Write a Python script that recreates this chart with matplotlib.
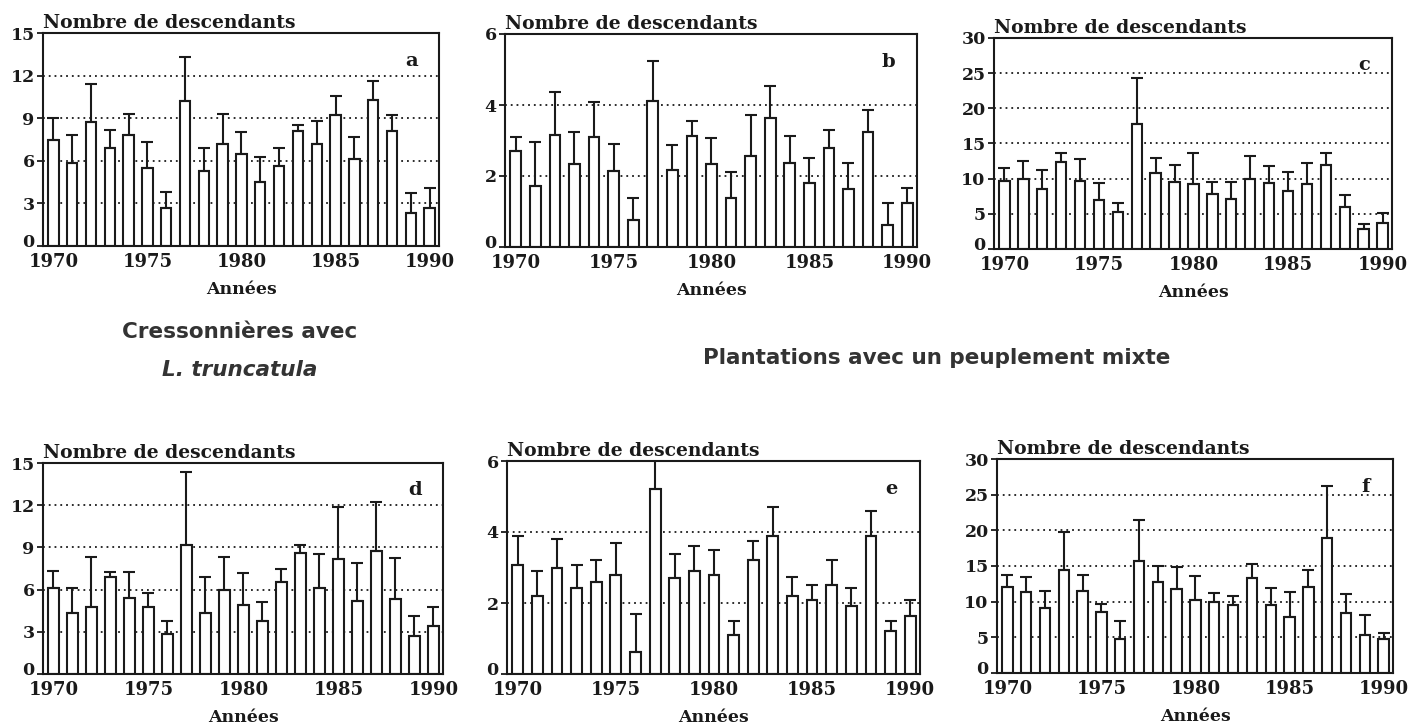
import matplotlib
matplotlib.use("Agg")
import matplotlib.pyplot as plt
import matplotlib.transforms as mtransforms
import numpy as np

years = list(range(1970, 1991))

# mean number of descendants and top of the error bar, read per panel
a_mean = [7.5, 5.85, 8.7, 6.9, 7.8, 5.5, 2.7, 10.2, 5.3, 7.2, 6.5, 4.5, 5.6, 8.1, 7.2, 9.2, 6.1, 10.25, 8.1, 2.3, 2.7]
a_top = [9.0, 7.85, 11.4, 8.2, 9.3, 7.3, 3.8, 13.3, 6.9, 9.3, 8.0, 6.3, 6.9, 8.5, 8.8, 10.55, 7.7, 11.65, 9.2, 3.75, 4.1]

b_mean = [2.7, 1.72, 3.16, 2.35, 3.09, 2.15, 0.75, 4.11, 2.18, 3.13, 2.33, 1.38, 2.57, 3.62, 2.38, 1.81, 2.8, 1.62, 3.25, 0.61, 1.25]
b_top = [3.1, 2.96, 4.36, 3.25, 4.09, 2.9, 1.39, 5.25, 2.87, 3.56, 3.08, 2.12, 3.72, 4.54, 3.12, 2.51, 3.3, 2.37, 3.86, 1.25, 1.66]

c_mean = [9.7, 9.9, 8.6, 12.3, 9.6, 7.0, 5.2, 17.8, 10.8, 9.5, 9.2, 7.8, 7.1, 10.0, 9.4, 8.2, 9.3, 12.0, 6.0, 2.8, 3.7]
c_top = [11.5, 12.5, 11.2, 13.6, 12.8, 9.4, 6.6, 24.3, 12.9, 12.0, 13.6, 9.5, 9.5, 13.2, 11.8, 10.9, 12.2, 13.6, 7.7, 3.6, 5.1]

d_mean = [6.1, 4.33, 4.75, 6.88, 5.39, 4.75, 2.84, 9.15, 4.35, 6.0, 4.94, 3.74, 6.52, 8.63, 6.12, 8.16, 5.22, 8.77, 5.32, 2.67, 3.38]
d_top = [7.33, 6.12, 8.35, 7.23, 7.26, 5.77, 3.74, 14.37, 6.88, 8.32, 7.16, 5.11, 7.45, 9.15, 8.56, 11.87, 7.92, 12.2, 8.27, 4.09, 4.78]

e_mean = [3.08, 2.2, 3.0, 2.43, 2.6, 2.8, 0.61, 5.2, 2.71, 2.91, 2.8, 1.1, 3.21, 3.9, 2.2, 2.09, 2.51, 1.92, 3.89, 1.21, 1.62]
e_top = [3.89, 2.89, 3.8, 3.08, 3.2, 3.7, 1.7, 6.3, 3.39, 3.6, 3.5, 1.49, 3.76, 4.7, 2.72, 2.5, 3.21, 2.41, 4.6, 1.49, 2.09]

f_mean = [12.0, 11.3, 9.1, 14.5, 11.5, 8.55, 4.8, 15.7, 12.8, 11.8, 10.2, 9.9, 9.6, 13.3, 9.6, 7.85, 12.1, 18.9, 8.4, 5.3, 4.8]
f_top = [13.7, 13.4, 11.5, 19.7, 13.8, 9.7, 7.3, 21.4, 15.0, 14.8, 13.6, 11.2, 10.8, 15.3, 11.9, 11.4, 14.4, 26.2, 11.1, 8.2, 5.6]

panels = [
    ("a", a_mean, a_top, 15, [0, 3, 6, 9, 12, 15]),
    ("b", b_mean, b_top, 6, [0, 2, 4, 6]),
    ("c", c_mean, c_top, 30, [0, 5, 10, 15, 20, 25, 30]),
    ("d", d_mean, d_top, 15, [0, 3, 6, 9, 12, 15]),
    ("e", e_mean, e_top, 6, [0, 2, 4, 6]),
    ("f", f_mean, f_top, 30, [0, 5, 10, 15, 20, 25, 30]),
]

W, H = 1413, 727
# axes boxes in pixels: left, right, top, bottom
boxes = [
    (43, 439, 33, 246), (505, 917, 34, 247), (994, 1392, 38, 249),
    (43, 443, 463, 674), (507, 920, 461, 674), (997, 1393, 459, 673),
]

serif = "DejaVu Serif"
ink = "#1a1a1a"

fig = plt.figure(figsize=(W / 100, H / 100), dpi=100)
lift = mtransforms.ScaledTranslation(0, 4 / 72, fig.dpi_scale_trans)

for (letter, mean, top, ymax, yt), (l, r, t, b) in zip(panels, boxes):
    ax = fig.add_axes([l / W, 1 - b / H, (r - l) / W, (b - t) / H])
    mean = np.array(mean)
    up = np.array(top) - mean
    for y in yt[1:-1]:
        ax.axhline(y, color=ink, linestyle=(0, (1, 2.2)), linewidth=1.3, zorder=1)
    ax.bar(years, mean, width=0.55, color="white", edgecolor=ink, linewidth=1.5, zorder=2)
    ax.errorbar(years, mean, yerr=[np.zeros_like(up), up], fmt="none", ecolor=ink,
                elinewidth=1.5, capsize=4, capthick=1.5, zorder=3)
    ax.set_xlim(1969.45, 1990.5)
    ax.set_ylim(0, ymax)
    ax.set_yticks(yt)
    ax.set_xticks(years)
    ax.set_xticklabels([str(y) if y % 5 == 0 else "" for y in years])
    ax.tick_params(axis="x", direction="in", length=4, width=1.3, pad=5, color=ink)
    ax.tick_params(axis="y", direction="out", length=4, width=1.3, pad=2, color=ink)
    for lab in ax.get_xticklabels():
        lab.set_fontfamily(serif)
        lab.set_fontweight("bold")
        lab.set_fontsize(13)
        lab.set_color(ink)
    for lab in ax.get_yticklabels():
        lab.set_fontfamily(serif)
        lab.set_fontweight("bold")
        lab.set_fontsize(12.5)
        lab.set_color(ink)
    # the "0" sits just above the "1970" as in the original
    zero = ax.yaxis.get_major_ticks()[0].label1
    zero.set_transform(zero.get_transform() + lift)
    for s in ax.spines.values():
        s.set_linewidth(1.5)
        s.set_color(ink)
    ax.text(0.0, 1.005, "Nombre de descendants", transform=ax.transAxes, ha="left", va="bottom",
            fontfamily=serif, fontweight="bold", fontsize=13.5, color=ink)
    ax.text(0.93, 0.87, letter, transform=ax.transAxes, ha="center", va="center",
            fontfamily=serif, fontweight="bold", fontsize=14, color=ink)
    ax.set_xlabel("Années", fontfamily=serif, fontweight="bold", fontsize=12.5, color=ink, labelpad=7)

fig.text(240 / W, 1 - 332 / H, "Cressonnières avec", ha="center", va="center",
         fontfamily="DejaVu Sans", fontweight="bold", fontsize=15.5, color="#333333")
fig.text(240 / W, 1 - 370 / H, "L. truncatula", ha="center", va="center",
         fontfamily="DejaVu Sans", fontweight="bold", fontstyle="italic", fontsize=15.5, color="#333333")
fig.text(937 / W, 1 - 358 / H, "Plantations avec un peuplement mixte", ha="center", va="center",
         fontfamily="DejaVu Sans", fontweight="bold", fontsize=15.5, color="#333333")

fig.savefig("out.png", dpi=100)
